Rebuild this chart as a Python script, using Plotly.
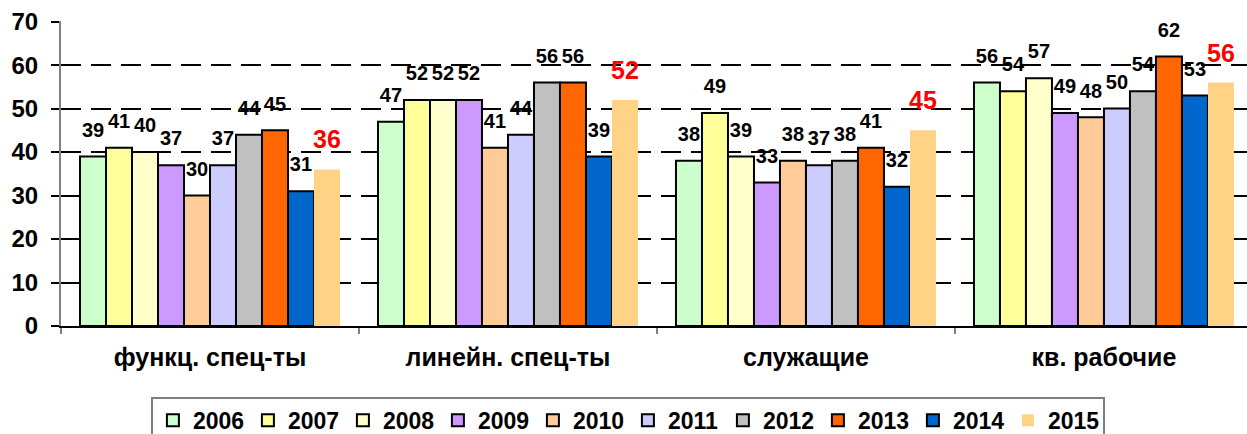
import plotly.graph_objects as go

categories = ["функц. спец-ты", "линейн. спец-ты", "служащие", "кв. рабочие"]
years = ["2006", "2007", "2008", "2009", "2010", "2011", "2012", "2013", "2014", "2015"]
v2006 = [39, 47, 38, 56]
v2007 = [41, 52, 49, 54]
v2008 = [40, 52, 39, 57]
v2009 = [37, 52, 33, 49]
v2010 = [30, 41, 38, 48]
v2011 = [37, 44, 37, 50]
v2012 = [44, 56, 38, 54]
v2013 = [45, 56, 41, 62]
v2014 = [31, 39, 32, 53]
v2015 = [36, 52, 45, 56]
series = [v2006, v2007, v2008, v2009, v2010, v2011, v2012, v2013, v2014, v2015]
colors = ["#CCFFCC", "#FFFF99", "#FFFFCC", "#CC99FF", "#FFCC99",
          "#CCCCFF", "#C0C0C0", "#FF6600", "#0066CC", "#FFD285"]
y_ticks = [0, 10, 20, 30, 40, 50, 60, 70]

FONT = "Liberation Sans, Arial, sans-serif"
BARGAP = 0.1275

fig = go.Figure()
# bars
for i, (yr, vals, col) in enumerate(zip(years, series, colors)):
    last = (i == len(years) - 1)
    fig.add_trace(go.Bar(
        name=yr,
        x=categories,
        y=vals,
        marker=dict(color=col,
                    line=dict(color=col if last else "black", width=0 if last else 2)),
        hoverinfo="skip",
    ))
# value labels (grouped scatter aligned with the bars, invisible markers give the offset)
for i, (yr, vals) in enumerate(zip(years, series)):
    last = (i == len(years) - 1)
    fig.add_trace(go.Scatter(
        name=yr + " labels",
        x=categories,
        y=vals,
        mode="markers+text",
        marker=dict(size=22, opacity=0),
        text=[str(v) for v in vals],
        textposition="top center",
        textfont=dict(family=FONT, size=25 if last else 20,
                      color="red" if last else "black", weight="bold"),
        cliponaxis=False,
        showlegend=False,
        hoverinfo="skip",
    ))

fig.update_layout(
    width=1247, height=434,
    margin=dict(l=61, r=0, t=21, b=108, autoexpand=False),
    paper_bgcolor="white", plot_bgcolor="white",
    barmode="group", bargap=BARGAP, bargroupgap=0,
    scattermode="group", scattergap=BARGAP,
    font=dict(family=FONT, color="black"),
    showlegend=True,
    legend=dict(
        orientation="h",
        x=0.478, xanchor="center",
        y=-0.232, yanchor="top",
        bordercolor="#808080", borderwidth=2,
        font=dict(family=FONT, size=23, weight="bold"),
        entrywidth=50,
        traceorder="normal",
        itemclick=False,
    ),
)

fig.update_xaxes(
    type="category",
    range=[-0.5, 3.48],
    automargin=False,
    showline=True, linecolor="black", linewidth=2,
    ticks="outside", tickson="boundaries", ticklen=6, tickcolor="#808080", tickwidth=2,
    tickfont=dict(family=FONT, size=25, weight="bold"),
    ticklabelstandoff=8,
    showgrid=False,
)
fig.update_yaxes(
    range=[0, 70.15],
    tickvals=y_ticks,
    automargin=False,
    showline=True, linecolor="#808080", linewidth=2,
    ticks="outside", ticklen=8, tickcolor="black", tickwidth=2,
    tickfont=dict(family=FONT, size=24, weight="bold"),
    ticklabelstandoff=8,
    showgrid=True, gridcolor="black", gridwidth=2, griddash="20px,10px",
    zeroline=False,
)

fig.write_html(
    "out.html",
    config={"displayModeBar": False},
    post_script="document.body.style.margin='0';document.body.style.overflow='hidden';",
)
